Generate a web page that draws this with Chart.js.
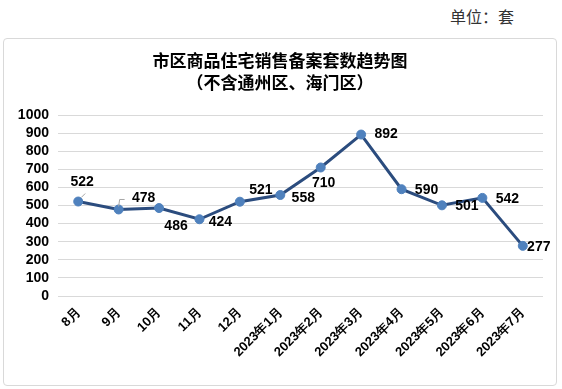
<!DOCTYPE html>
<html>
<head>
<meta charset="utf-8">
<script src="https://cdn.jsdelivr.net/npm/chart.js@4/dist/chart.umd.min.js"></script>
<style>
  html, body { margin: 0; padding: 0; background: #fff; }
  body { width: 562px; height: 389px; position: relative; overflow: hidden; }
  #unit {
    position: absolute; left: 450px; top: 4px;
    font: 16px "Noto Sans CJK SC", sans-serif; color: #333;
  }
  #box {
    position: absolute; left: 3px; top: 38px; width: 552px; height: 346px;
    border: 1px solid #d9d9d9; border-radius: 4px;
  }
  canvas { display: block; }
</style>
</head>
<body>
<div id="unit">单位：套</div>
<div id="box"><canvas id="chart" width="552" height="346"></canvas></div>
<script>
// data
const months = ["8月", "9月", "10月", "11月", "12月", "2023年1月", "2023年2月",
  "2023年3月", "2023年4月", "2023年5月", "2023年6月", "2023年7月"];
const sales = [522, 478, 486, 424, 521, 558, 710, 892, 590, 501, 542, 277];
const titleLines = ["市区商品住宅销售备案套数趋势图", "（不含通州区、海门区）"];

// where each value label sits relative to its point (dx, dy in px)
const labelOffsets = [
  [4, -19], [25, -11], [17, 18], [21, 3], [21, -12], [23, 3],
  [3, 16], [25, 0], [25, 1], [25, 1], [25, 1], [16, 1]
];

const ctx = document.getElementById("chart").getContext("2d");

// title + value labels + leader lines
const decorations = {
  id: "decorations",
  afterDraw(chart) {
    const c = chart.ctx;
    c.save();
    c.fillStyle = "#000";
    c.textAlign = "center";
    c.textBaseline = "middle";
    c.font = "bold 17px 'Noto Sans CJK SC'";
    c.fillText(titleLines[0], chart.width / 2, 22);
    c.fillText(titleLines[1], chart.width / 2, 44);

    const meta = chart.getDatasetMeta(0);
    c.font = "bold 14px 'Liberation Sans', Arial";
    meta.data.forEach((pt, i) => {
      const [dx, dy] = labelOffsets[i];
      c.fillText(String(sales[i]), pt.x + dx, pt.y + dy);
    });

    // small leader lines for the first two labels
    c.strokeStyle = "#a6a6a6";
    c.lineWidth = 1;
    let p = meta.data[0];
    c.beginPath();
    c.moveTo(p.x + 3, p.y - 4);
    c.lineTo(p.x + 7, p.y - 8);
    c.stroke();
    p = meta.data[1];
    c.beginPath();
    c.moveTo(p.x, p.y - 3);
    c.lineTo(p.x + 1, p.y - 10);
    c.lineTo(p.x + 6, p.y - 10);
    c.stroke();
    c.restore();
  }
};

new Chart(ctx, {
  type: "line",
  data: {
    labels: months,
    datasets: [{
      data: sales,
      borderColor: "#2b4c7e",
      borderWidth: 3,
      pointRadius: 4.5,
      pointBackgroundColor: "#4f81bd",
      pointBorderColor: "#4f81bd",
      pointBorderWidth: 1,
      tension: 0,
    }],
  },
  options: {
    responsive: false,
    animation: false,
    layout: { padding: { top: 76, right: 13, left: 0, bottom: 0 } },
    plugins: {
      legend: { display: false },
      tooltip: { enabled: false },
    },
    scales: {
      x: {
        offset: true,
        grid: { display: false, drawTicks: false },
        border: { display: false },
        ticks: {
          minRotation: 45,
          maxRotation: 45,
          padding: 9,
          color: "#000",
          font: { family: "'Liberation Sans', Arial", size: 13, weight: "bold" },
        },
        afterFit(scale) { scale.height = 89; },
      },
      y: {
        min: 0,
        max: 1000,
        grid: { color: "#d9d9d9", drawTicks: false },
        border: { display: false },
        ticks: {
          stepSize: 100,
          maxTicksLimit: 11,
          autoSkip: false,
          padding: 9,
          color: "#000",
          font: { family: "'Liberation Sans', Arial", size: 14, weight: "bold" },
          callback: (v) => String(v),
        },
        afterFit(scale) { scale.width = 54; },
      },
    },
  },
  plugins: [decorations],
});
</script>
</body>
</html>
